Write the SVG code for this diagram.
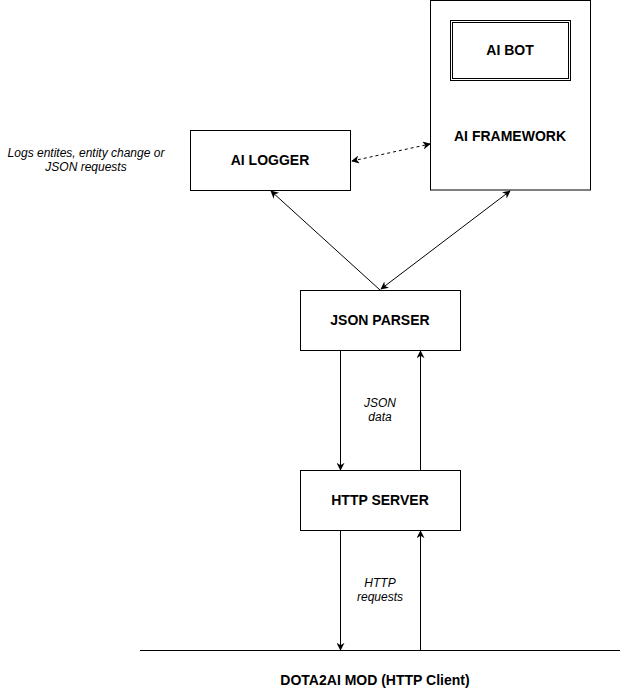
<svg xmlns="http://www.w3.org/2000/svg" width="622" height="692" viewBox="0 0 622 692">
<style>
.box{fill:#fff;stroke:#000;stroke-width:1}
.t{font-family:"Liberation Sans",Arial,sans-serif;font-weight:bold;font-size:14px;text-anchor:middle;fill:#000}
.lbl{font-family:"Liberation Sans",Arial,sans-serif;font-style:italic;font-size:12px;text-anchor:middle;fill:#000}
.c{fill:none;stroke:#000;stroke-width:1}
</style>
<defs>
<marker id="ah" viewBox="0 0 10 10" refX="9" refY="5" markerWidth="8" markerHeight="8" orient="auto-start-reverse" markerUnits="userSpaceOnUse">
<path d="M0,0 L10,5 L0,10 L3,5 Z" fill="#000"/>
</marker>
</defs>
<rect width="622" height="692" fill="#fff"/>
<g id="ai-framework">
<rect class="box" x="430.5" y="0.5" width="160" height="189.5"/>
<text class="t" x="510" y="141">AI FRAMEWORK</text>
</g>
<g id="ai-bot">
<rect class="box" x="450.5" y="20.5" width="120" height="60"/>
<rect class="box" x="452.5" y="22.5" width="116" height="56"/>
<text class="t" x="510" y="55">AI BOT</text>
</g>
<g id="ai-logger">
<rect class="box" x="190.5" y="130.5" width="160" height="60"/>
<text class="t" x="270" y="165">AI LOGGER</text>
</g>
<g id="logger-note">
<text class="lbl" x="86" y="157">Logs entites, entity change or</text>
<text class="lbl" x="86" y="171">JSON requests</text>
</g>
<g id="json-parser">
<rect class="box" x="300.5" y="290.5" width="160" height="60"/>
<text class="t" x="380" y="325">JSON PARSER</text>
</g>
<g id="http-server">
<rect class="box" x="300.5" y="470.5" width="160" height="60"/>
<text class="t" x="380" y="505">HTTP SERVER</text>
</g>
<g id="dota2ai-mod">
<line class="c" x1="140" y1="650.5" x2="620" y2="650.5"/>
<text class="t" x="375" y="685">DOTA2AI MOD (HTTP Client)</text>
</g>
<g id="connectors">
<line class="c" x1="352" y1="161" x2="430" y2="144" stroke-dasharray="3 3" marker-start="url(#ah)" marker-end="url(#ah)"/>
<line class="c" x1="380" y1="290" x2="271" y2="191" marker-end="url(#ah)"/>
<line class="c" x1="381" y1="289" x2="510" y2="191" marker-start="url(#ah)" marker-end="url(#ah)"/>
<line class="c" x1="340.5" y1="351" x2="340.5" y2="470" marker-end="url(#ah)"/>
<line class="c" x1="420.5" y1="470" x2="420.5" y2="351" marker-end="url(#ah)"/>
<line class="c" x1="340.5" y1="531" x2="340.5" y2="650" marker-end="url(#ah)"/>
<line class="c" x1="420.5" y1="650" x2="420.5" y2="531" marker-end="url(#ah)"/>
<text class="lbl" x="380" y="407">JSON</text>
<text class="lbl" x="380" y="421">data</text>
<text class="lbl" x="380" y="587">HTTP</text>
<text class="lbl" x="380" y="601">requests</text>
</g>
</svg>
